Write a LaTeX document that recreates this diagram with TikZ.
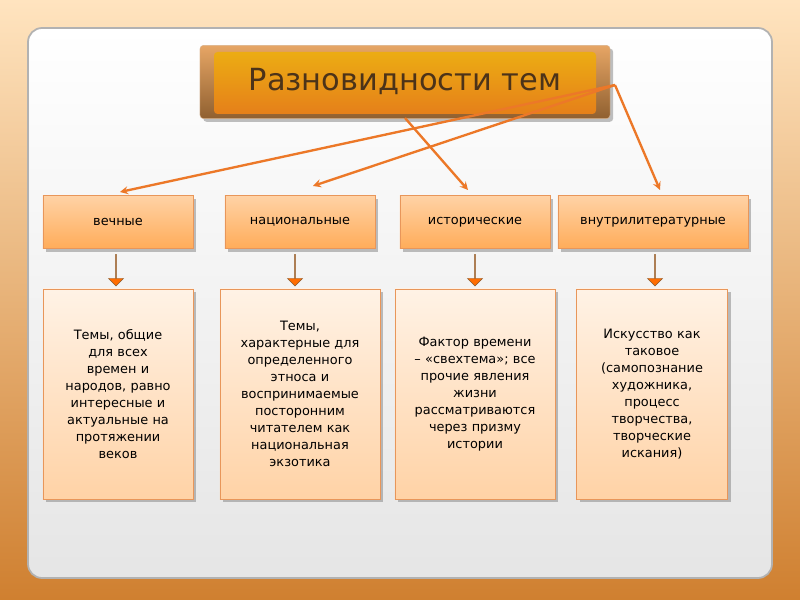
\documentclass[tikz,border=0pt]{standalone}
\usepackage{fontspec}
\setmainfont{DejaVu Sans}
\usetikzlibrary{positioning,shadows,shapes.arrows}
\definecolor{boxline}{RGB}{232,150,90}
\definecolor{arrowc}{RGB}{236,120,40}
\tikzset{
    kind/.style = {draw=boxline, line width=0.8pt, top color=orange!35!white, bottom color=orange!65!white,
        minimum width=4.5cm, minimum height=1.6cm, font=\fontsize{11}{13}\selectfont, drop shadow},
    about/.style = {draw=boxline, line width=0.8pt, top color=orange!10!white, bottom color=orange!35!white,
        minimum height=6.3cm, align=center, font=\fontsize{11}{14.5}\selectfont, drop shadow},
    link/.style = {arrowc, line width=2pt, ->, >=stealth},
    down/.style = {single arrow, draw=brown!70!black, fill=orange!85!red, minimum height=0.95cm,
        single arrow head extend=0.15cm, minimum width=0.45cm, shape border rotate=270, inner sep=0pt},
}
\begin{document}
\begin{tikzpicture}[x=0.03cm, y=-0.03cm]
\useasboundingbox (0,0) rectangle (800,600);
\shade[top color=yellow!15!orange!25!white, bottom color=brown!75!orange] (0,0) rectangle (800,600);
\draw[gray!60, line width=1.5pt, top color=white, bottom color=gray!20, rounded corners=12pt] (28,28) rectangle (772,578);

% title
\node[draw=brown!60, top color=orange!45!brown!70, bottom color=brown!75!black, minimum width=12.3cm,
    minimum height=2.2cm, rounded corners=3pt, drop shadow] (title) at (405,82) {};
\shade[top color=orange!50!yellow!70!brown, bottom color=orange!60!brown, rounded corners=3pt] (214,52) rectangle (596,114);
\node[text=brown!40!black, font=\fontsize{26}{30}\selectfont] at (405,82) {Разновидности тем};
\coordinate (src) at (615,85);
\coordinate (mid) at (405,118);

% categories
\node[kind] (k1) at (118,222) {вечные};
\node[kind] (k2) at (300,222) {национальные};
\node[kind] (k3) at (475,222) {исторические};
\node[kind, minimum width=5.7cm] (k4) at (653,222) {внутрилитературные};

\draw[link] (src) -- (120,192);
\draw[link] (src) -- (313,186);
\draw[link] (mid) -- (468,190);
\draw[link] (src) -- (660,190);

% arrows down
\foreach \x/\n in {116/1,295/2,475/3,655/4}
    \node[down] (d\n) at (\x,270) {};

% descriptions
\node[about, minimum width=4.5cm, text width=4.1cm] (a1) at (118,394)
    {Темы, общие\\для всех\\времен и\\народов, равно\\интересные и\\актуальные на\\протяжении\\веков};
\node[about, minimum width=4.8cm, text width=4.4cm] (a2) at (300,394)
    {Темы,\\характерные для\\определенного\\этноса и\\воспринимаемые\\посторонним\\читателем как\\национальная\\экзотика};
\node[about, minimum width=4.8cm, text width=4.4cm] (a3) at (475,394)
    {Фактор времени\\– «свехтема»; все\\прочие явления\\жизни\\рассматриваются\\через призму\\истории};
\node[about, minimum width=4.5cm, text width=4.3cm] (a4) at (652,394)
    {Искусство как\\таковое\\(самопознание\\художника,\\процесс\\творчества,\\творческие\\искания)};
\end{tikzpicture}
\end{document}
